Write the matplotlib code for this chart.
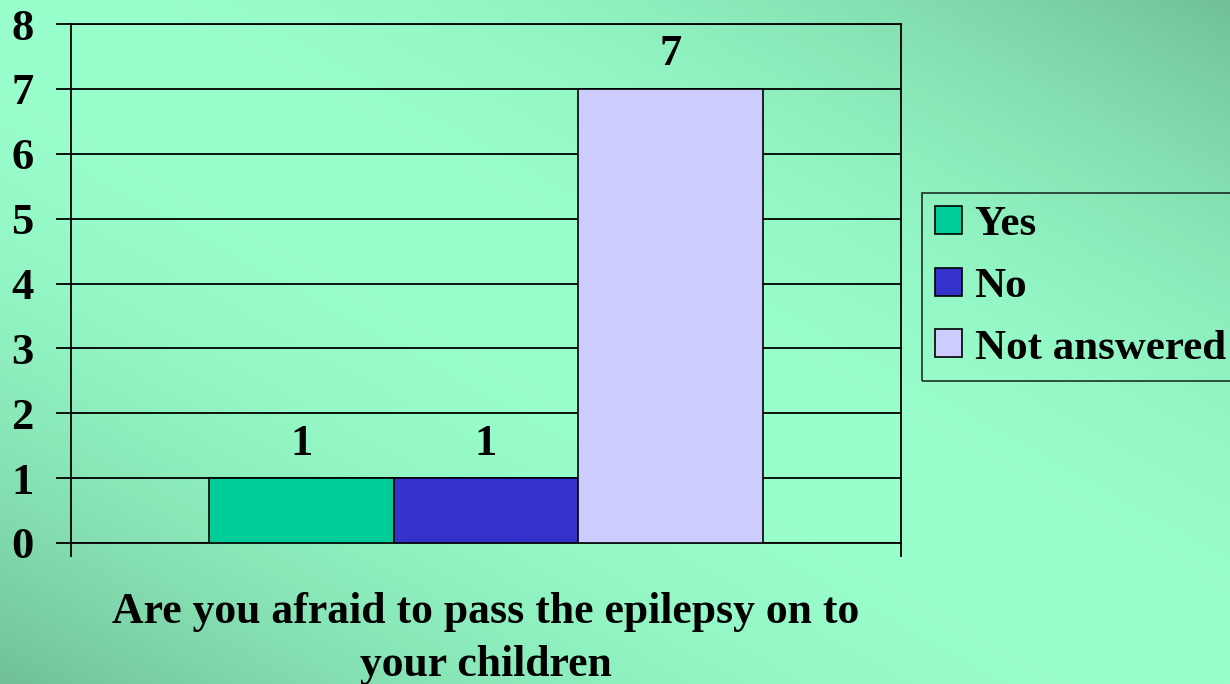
import numpy as np
import matplotlib.pyplot as plt
from matplotlib.patches import Patch

plt.close('all')

# chart data
categories = ['Yes', 'No', 'Not answered']
counts = [1, 1, 7]
colors = ['#00CC99', '#3333CC', '#CCCCFF']
question = ['Are you afraid to pass the epilepsy on to', 'your children']
yticks = list(range(0, 9))

W, H = 1230, 684
font = 'Liberation Serif'
fs = 32

fig = plt.figure(figsize=(W / 100, H / 100), dpi=100)

# slide style gradient background
bg = fig.add_axes([0, 0, 1, 1], zorder=-10)
u = np.linspace(0, 1, 300)[None, :]
v = np.linspace(1, 0, 200)[:, None]
f = np.clip(np.abs(u + v - 1.0), 0, 1) ** 2
light = np.array([153, 255, 204]) / 255.0
dark = np.array([112, 192, 152]) / 255.0
img = light[None, None, :] * (1 - f[..., None]) + dark[None, None, :] * f[..., None]
bg.imshow(img, aspect='auto', extent=(0, 1, 0, 1), interpolation='bilinear')
bg.axis('off')

# plot area
x0, x1, ytop, ybot = 71, 901, 24, 543
ax = fig.add_axes([x0 / W, (H - ybot) / H, (x1 - x0) / W, (ybot - ytop) / H])
ax.patch.set_alpha(0)

xpos = np.arange(len(categories))
bars = ax.bar(xpos, counts, width=1.0, color=colors, edgecolor='black',
              linewidth=1.2, zorder=3)
for b, c in zip(bars, counts):
    ax.annotate(str(c), (b.get_x() + b.get_width() / 2, b.get_height()),
                xytext=(0, 17), textcoords='offset points', ha='center',
                va='baseline', fontsize=fs, fontweight='bold', family=font)

ax.set_xlim(-1.25, 3.25)
ax.set_ylim(0, 8)
ax.set_yticks(yticks)
ax.set_yticklabels([str(t) for t in yticks], fontsize=fs, fontweight='bold',
                   family=font)
ax.yaxis.grid(True, color='black', linewidth=1.3, zorder=0)
ax.set_axisbelow(True)
ax.tick_params(axis='y', direction='out', length=11, width=1.3, pad=16,
               colors='black')
ax.set_xticks([-1.25, 3.25])
ax.set_xticklabels(['', ''])
ax.tick_params(axis='x', direction='out', length=10, width=1.3)
for s in ax.spines.values():
    s.set_linewidth(1.3)
    s.set_color('black')

# question text under the chart
fig.text(486 / W, 1 - 623 / H, question[0], ha='center', va='baseline',
         fontsize=31.5, fontweight='bold', family=font)
fig.text(486 / W, 1 - 676 / H, question[1], ha='center', va='baseline',
         fontsize=31.5, fontweight='bold', family=font)

# legend
handles = [Patch(facecolor=c, edgecolor='black', linewidth=1.2) for c in colors]
leg = fig.legend(handles, categories, loc='upper left',
                 bbox_to_anchor=(922 / W, 1 - 193 / H), borderaxespad=0,
                 frameon=True, fancybox=False, edgecolor='black',
                 facecolor='none', handlelength=0.62, handleheight=0.62,
                 handletextpad=0.3, borderpad=0.3, labelspacing=0.55,
                 prop={'family': font, 'weight': 'bold', 'size': 31})
leg.get_frame().set_linewidth(1.2)

fig.savefig('out.png', dpi=100)
